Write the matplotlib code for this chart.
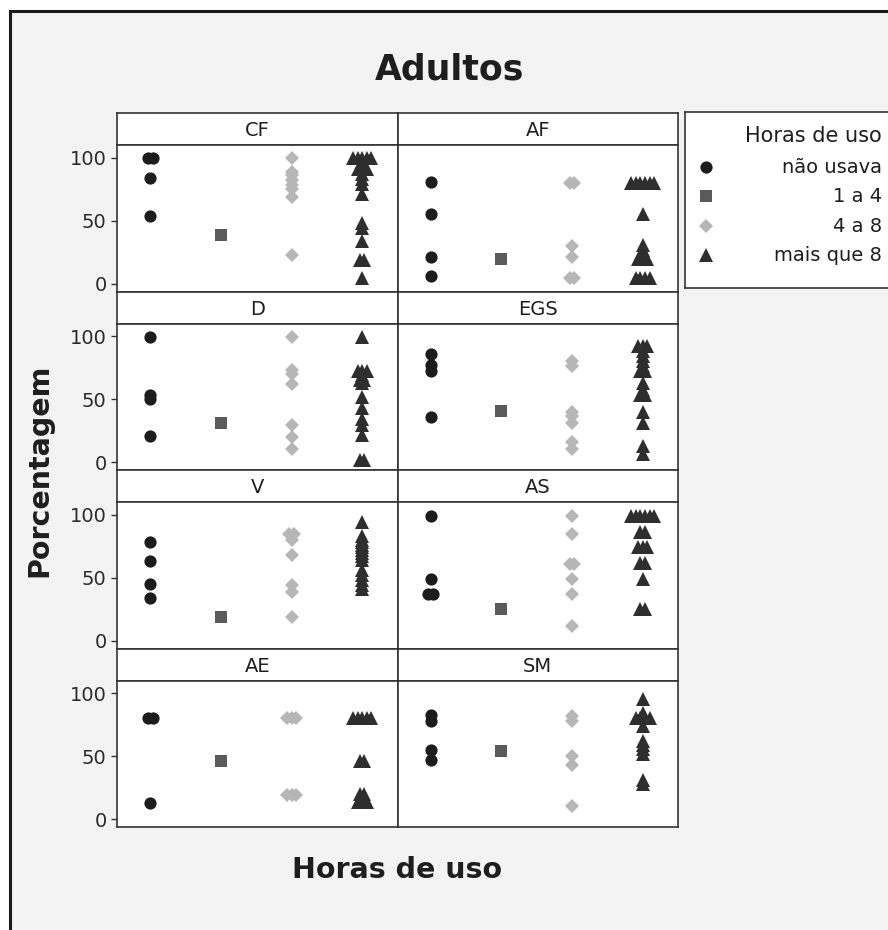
import numpy as np
import matplotlib.pyplot as plt
from matplotlib.patches import Rectangle

# panels in reading order (2 columns x 4 rows)
panel_names = ['CF', 'AF', 'D', 'EGS', 'V', 'AS', 'AE', 'SM']
group_names = ['não usava', '1 a 4', '4 a 8', 'mais que 8']

# values per panel: [não usava, 1 a 4, 4 a 8, mais que 8]
cf = [[100, 100, 84, 54],
      [39],
      [100, 89, 86, 82, 78, 75, 69, 23],
      [100, 100, 100, 100, 100, 95, 91, 91, 91, 87, 83, 79, 71, 48, 44, 34, 19, 19, 5]]
af = [[81, 55, 21, 6],
      [20],
      [80, 80, 30, 21, 5, 5],
      [80, 80, 80, 80, 80, 80, 55, 31, 27, 22, 22, 20, 20, 20, 5, 5, 5, 5]]
d = [[99, 53, 50, 21],
     [31],
     [99, 73, 70, 62, 30, 20, 11],
     [99, 72, 72, 72, 69, 65, 65, 63, 52, 43, 34, 30, 22, 2, 2]]
egs = [[86, 77, 72, 36],
       [41],
       [80, 76, 40, 37, 31, 16, 11],
       [92, 92, 92, 88, 84, 80, 76, 72, 72, 63, 57, 53, 53, 40, 31, 13, 7]]
v = [[78, 63, 45, 34],
     [19],
     [85, 85, 80, 68, 44, 39, 19],
     [94, 83, 80, 78, 76, 74, 72, 70, 67, 64, 56, 52, 48, 44, 41]]
as_ = [[99, 49, 37, 37],
       [25],
       [99, 85, 61, 61, 49, 37, 12],
       [99, 99, 99, 99, 99, 99, 86, 86, 74, 74, 74, 62, 62, 49, 25, 25]]
ae = [[80, 80, 13],
      [46],
      [80, 80, 80, 19, 19, 19],
      [80, 80, 80, 80, 80, 46, 46, 20, 20, 14, 14, 14]]
sm = [[83, 78, 55, 47],
      [54],
      [82, 78, 50, 43, 11],
      [95, 84, 80, 80, 80, 80, 74, 62, 59, 56, 52, 31, 28]]
panel_data = [cf, af, d, egs, v, as_, ae, sm]

# marker style per group
markers = ['o', 's', 'D', '^']
msizes = [8.8, 8.4, 7.6, 10.2]
mcolors = ['#1c1c1c', '#5a5a5a', '#b6b6b6', '#2e2e2e']

W, H = 888, 930
edge = '#333333'
txt = '#1e1e1e'


def fbox(x0, y0, w, h):
    # pixel box (from top-left) -> figure fraction
    return [x0 / W, 1 - (y0 + h) / H, w / W, h / H]


def spread(vals, step=0.065):
    # side-by-side offsets for repeated values
    vals = np.asarray(vals, float)
    offs = np.zeros(len(vals))
    for val in np.unique(vals):
        idx = np.where(vals == val)[0]
        offs[idx] = (np.arange(len(idx)) - (len(idx) - 1) / 2) * step
    return offs


fig = plt.figure(figsize=(W / 100, H / 100), dpi=100)
fig.patch.set_facecolor('white')
frame = Rectangle((10 / W, 1 - 960 / H), 900 / W, (960 - 11) / H,
                  transform=fig.transFigure, facecolor='#f3f3f3',
                  edgecolor='#1a1a1a', linewidth=2.2, zorder=-10)
fig.patches.append(frame)

col_x = [117, 397.5]
col_w = 280.5
strip_h = 32
data_h = 146.5

for i, (name, groups) in enumerate(zip(panel_names, panel_data)):
    r, c = divmod(i, 2)
    top = 113 + r * (strip_h + data_h)
    x0 = col_x[c]

    ax_s = fig.add_axes(fbox(x0, top, col_w, strip_h))
    ax_s.set_facecolor('white')
    ax_s.set_xticks([])
    ax_s.set_yticks([])
    for sp in ax_s.spines.values():
        sp.set_color(edge)
        sp.set_linewidth(1.2)
    ax_s.text(0.5, 0.45, name, ha='center', va='center', fontsize=14, color=txt,
              transform=ax_s.transAxes)

    ax = fig.add_axes(fbox(x0, top + strip_h, col_w, data_h))
    ax.set_facecolor('white')
    for k, vals in enumerate(groups):
        xs = k + 1 + spread(vals)
        ax.plot(xs, vals, linestyle='none', marker=markers[k], markersize=msizes[k],
                color=mcolors[k], markeredgewidth=0)
    ax.set_xlim(0.53, 4.5)
    ax.set_ylim(-6, 110)
    ax.set_xticks([])
    ax.set_yticks([0, 50, 100])
    for sp in ax.spines.values():
        sp.set_color(edge)
        sp.set_linewidth(1.2)
    if c == 0:
        ax.tick_params(axis='y', length=4.5, width=1, color=edge, pad=3,
                       labelsize=14, labelcolor='#2b2b2b')
    else:
        ax.tick_params(axis='y', left=False, labelleft=False)

fig.text(450 / W, 1 - 70 / H, 'Adultos', ha='center', va='center',
         fontsize=25, fontweight='bold', color=txt)
fig.text(397 / W, 1 - 870 / H, 'Horas de uso', ha='center', va='center',
         fontsize=20.5, fontweight='bold', color=txt)
fig.text(39 / W, 1 - 470 / H, 'Porcentagem', ha='center', va='center',
         rotation=90, fontsize=20.5, fontweight='bold', color=txt)

# legend box
lg = fig.add_axes(fbox(685, 112, 240, 176))
lg.set_facecolor('white')
lg.set_xlim(0, 240)
lg.set_ylim(176, 0)
lg.set_xticks([])
lg.set_yticks([])
for sp in lg.spines.values():
    sp.set_color(edge)
    sp.set_linewidth(1.2)
lg.text(197, 24, 'Horas de uso', ha='right', va='center', fontsize=15, color=txt)
for k, g in enumerate(group_names):
    y = 55 + k * 29.5
    lg.plot([21], [y], linestyle='none', marker=markers[k], markersize=msizes[k],
            color=mcolors[k], markeredgewidth=0)
    lg.text(197, y, g, ha='right', va='center', fontsize=14, color=txt)

fig.savefig('out.png', dpi=100)
